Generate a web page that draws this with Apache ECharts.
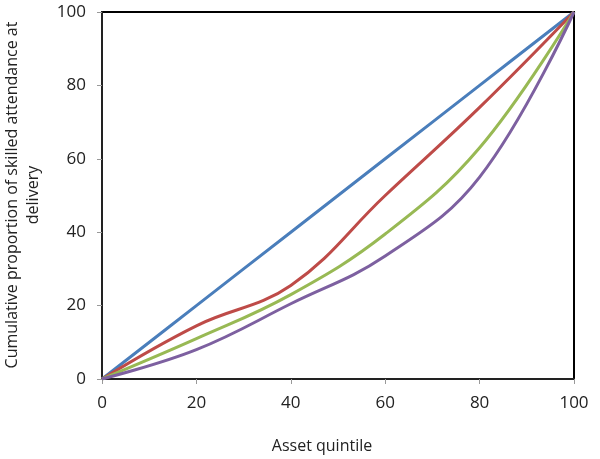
<!DOCTYPE html>
<html>
<head>
<meta charset="utf-8">
<script src="https://cdn.jsdelivr.net/npm/echarts@6/dist/echarts.min.js"></script>
<style>html,body{margin:0;padding:0;background:#fff}#c{width:600px;height:459px}</style>
</head>
<body>
<div id="c"></div>
<script>
var xValues = [0, 20, 40, 60, 80, 100];
var equality = [0, 20, 40, 60, 80, 100];
var redSeries = [0, 14.5, 25.5, 50, 74, 100];
var greenSeries = [0, 11, 23, 39.5, 63, 100];
var purpleSeries = [0, 8, 20.5, 33.5, 55, 100];
var xTitle = 'Asset quintile';
var yTitleLines = ['Cumulative proportion of skilled attendance at', 'delivery'];

function pairs(ys) { return xValues.map(function (x, i) { return [x, ys[i]]; }); }

var fam = 'Open Sans';
var chart = echarts.init(document.getElementById('c'), null, {renderer: 'canvas'});
function line(data, color) {
  return {type: 'line', data: pairs(data), smooth: 0.4, showSymbol: false,
    lineStyle: {color: color, width: 3}, itemStyle: {color: color}};
}
chart.setOption({
  animation: false,
  grid: {left: 102, right: 26, top: 12, bottom: 80, show: true, borderColor: '#000', borderWidth: 2},
  xAxis: {type: 'value', min: 0, max: 100, interval: 20,
    axisLine: {show: true, lineStyle: {color: '#222', width: 2}},
    axisTick: {show: true, length: 5, lineStyle: {color: '#999'}},
    axisLabel: {margin: 16, fontSize: 17, color: '#222', fontFamily: fam},
    splitLine: {show: false}},
  yAxis: {type: 'value', min: 0, max: 100, interval: 20,
    axisLine: {show: true, lineStyle: {color: '#222', width: 2}},
    axisTick: {show: true, length: 5, lineStyle: {color: '#999'}},
    axisLabel: {margin: 16, fontSize: 17, color: '#222', fontFamily: fam},
    splitLine: {show: false}},
  graphic: [
    {type: 'text', x: 322, y: 446,
      style: {text: xTitle, fontSize: 16, fontFamily: fam, fill: '#222', align: 'center', verticalAlign: 'middle'}},
    {type: 'text', rotation: Math.PI / 2, x: 12, y: 195,
      style: {text: yTitleLines[0], fontSize: 16, fontFamily: fam, fill: '#222', align: 'center', verticalAlign: 'middle'}},
    {type: 'text', rotation: Math.PI / 2, x: 33, y: 195,
      style: {text: yTitleLines[1], fontSize: 16, fontFamily: fam, fill: '#222', align: 'center', verticalAlign: 'middle'}}
  ],
  series: [
    line(equality, '#4A7EBB'),
    line(redSeries, '#BE4B48'),
    line(greenSeries, '#98B954'),
    line(purpleSeries, '#7D60A0')
  ]
});
</script>
</body>
</html>
